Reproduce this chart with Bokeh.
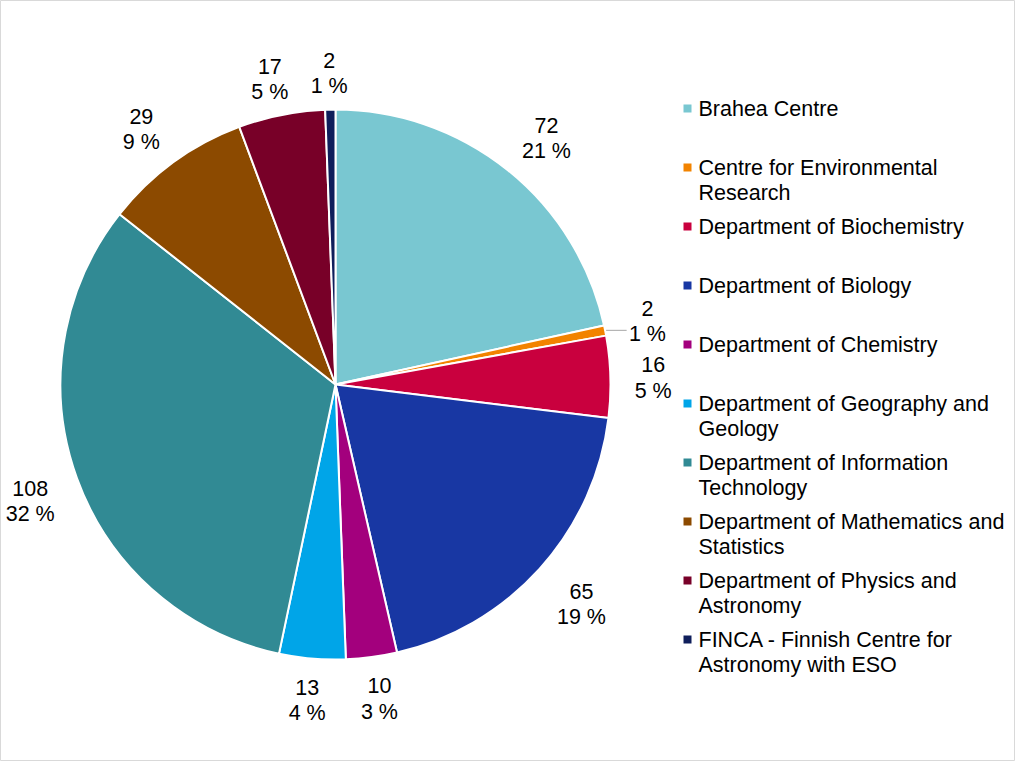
import math
from bokeh.plotting import figure
from bokeh.models import Range1d, ColumnDataSource
from bokeh.core.properties import value
from bokeh.embed import file_html
from bokeh.resources import INLINE

categories = [
    "Brahea Centre",
    "Centre for Environmental\nResearch",
    "Department of Biochemistry",
    "Department of Biology",
    "Department of Chemistry",
    "Department of Geography and\nGeology",
    "Department of Information\nTechnology",
    "Department of Mathematics and\nStatistics",
    "Department of Physics and\nAstronomy",
    "FINCA - Finnish Centre for\nAstronomy with ESO",
]
counts = [72, 2, 16, 65, 10, 13, 108, 29, 17, 2]
percents = [21, 1, 5, 19, 3, 4, 32, 9, 5, 1]
colors = ["#79C7D1", "#F28300", "#C9003E", "#1837A3", "#A3007D",
          "#00A5E8", "#318A94", "#8C4A00", "#780028", "#0F1E5B"]

W, H = 1015, 761
FONT = "Liberation Sans"
FS = 21.5
LH = 1.05
p = figure(width=W, height=H, output_backend="svg", toolbar_location=None,
           x_range=Range1d(0, W), y_range=Range1d(0, H), min_border=0)
p.axis.visible = False
p.grid.visible = False
p.outline_line_color = "#D9D9D9"
p.outline_line_width = 1
p.background_fill_color = "white"

cx, cy, R = 335, 377, 275
total = sum(counts)
starts, ends, mids = [], [], []
acc = 0
for c in counts:
    a0 = math.pi / 2 - 2 * math.pi * acc / total
    acc += c
    a1 = math.pi / 2 - 2 * math.pi * acc / total
    starts.append(a0)
    ends.append(a1)
    mids.append((a0 + a1) / 2)

src = ColumnDataSource(dict(start=starts, end=ends, color=colors))
p.wedge(x=cx, y=cy, radius=R, start_angle="start", end_angle="end",
        direction="clock", fill_color="color", line_color="white",
        line_width=2, source=src)


def clip(t):
    return max(-1.0, min(1.0, 2.0 * t))


# data labels, placed outside the pie (box edge near radius R + gap)
lx, ly, lt, lhw = [], [], [], []
gx, gy = 26, 18
hh = 21
shift = -3
for i, c in enumerate(counts):
    lines = [f"{c}", f"{percents[i]} %"]
    hw = max(len(s) for s in lines) * 0.52 * FS / 2
    ca, sa = math.cos(mids[i]), math.sin(mids[i])
    lx.append(cx + (R + gx) * ca + hw * clip(ca))
    ly.append(cy + (R + gy) * sa + hh * clip(sa) + shift)
    lt.append("\n".join(lines))
    lhw.append(hw)

# leader line for the thin orange slice
i_small = 1
ex = cx + (R + 1) * math.cos(mids[i_small])
ey = cy + (R + 1) * math.sin(mids[i_small])
p.segment(x0=[ex], y0=[ey], x1=[lx[i_small] - lhw[i_small] - 4], y1=[ey],
          line_color="#A6A6A6", line_width=1)
p.text(x=lx, y=ly, text=lt, text_align="center", text_baseline="middle",
       text_font=value(FONT), text_font_size=f"{FS}px", text_color="#000000",
       text_line_height=LH)

# legend
leg_x, leg_y0, leg_dy = 687, 653, 59
ys = [leg_y0 - i * leg_dy for i in range(len(categories))]
p.scatter(x=[leg_x] * len(ys), y=ys, marker="square", size=8,
          fill_color=colors, line_color=None)
p.text(x=[leg_x + 11] * len(ys), y=[y + 12 for y in ys], text=categories,
       text_align="left", text_baseline="top", text_font=value(FONT),
       text_font_size=f"{FS}px", text_color="#000000", text_line_height=LH)

open("out.html", "w").write(file_html(p, INLINE))
